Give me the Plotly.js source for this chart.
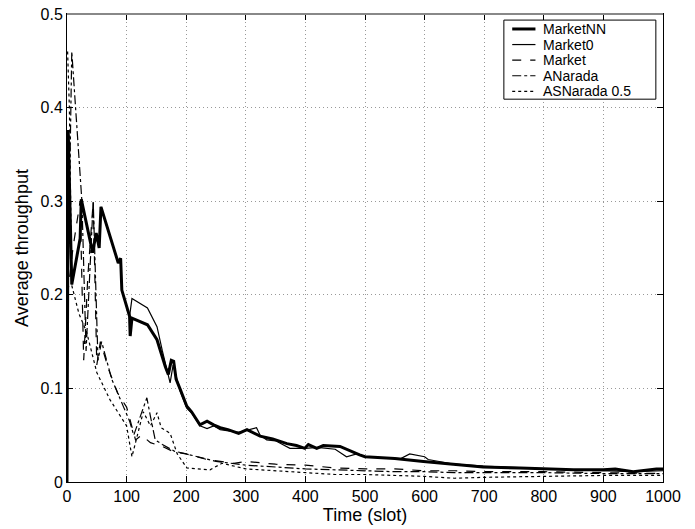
<!DOCTYPE html>
<html>
<head>
<meta charset="utf-8">
<script src="https://cdn.plot.ly/plotly-3.0.1.min.js"></script>
<style>html,body{margin:0;padding:0;background:#fff;}</style>
</head>
<body>
<div id="chart" style="width:695px;height:529px;"></div>
<script>
// MarketNN
const nnT = [0,2,8,22,24,43,49,54,57,86,90,92,105,106,109,135,151,156,165,170,175,179,183,190,201,209,218,223,235,246,257,270,288,302,324,345,369,385,399,405,419,430,458,475,491,500,550,598,650,698,760,800,850,900,920,950,989,1000];
const nnV = [0.0,0.376,0.211,0.26,0.302,0.245,0.266,0.25,0.294,0.234,0.239,0.205,0.177,0.156,0.175,0.168,0.152,0.141,0.123,0.115,0.13,0.129,0.11,0.099,0.081,0.075,0.065,0.061,0.065,0.061,0.058,0.056,0.052,0.056,0.049,0.046,0.041,0.039,0.036,0.040,0.036,0.039,0.038,0.033,0.029,0.027,0.025,0.022,0.019,0.016,0.015,0.014,0.013,0.013,0.014,0.011,0.014,0.014];
// Market0
const m0T = [0,2,8,22,24,43,49,54,57,86,90,92,105,109,135,151,160,168,173,178,185,190,201,210,223,235,246,257,288,302,318,324,335,350,374,400,420,450,469,486,500,560,575,600,606,650,700,800,900,950,1000];
const m0V = [0.0,0.376,0.211,0.26,0.302,0.245,0.266,0.25,0.294,0.234,0.239,0.205,0.177,0.196,0.186,0.166,0.14,0.12,0.106,0.125,0.11,0.097,0.079,0.073,0.06,0.057,0.06,0.056,0.053,0.055,0.058,0.05,0.045,0.044,0.036,0.036,0.037,0.035,0.027,0.030,0.027,0.025,0.030,0.027,0.024,0.019,0.017,0.014,0.012,0.011,0.012];
// Market
const mkT = [1,10,22,28,35,44,50,56,70,85,100,108,115,125,140,160,180,200,235,280,300,350,400,450,500,550,600,650,700,800,900,1000];
const mkV = [0.2,0.25,0.30,0.13,0.22,0.30,0.125,0.15,0.12,0.095,0.08,0.06,0.045,0.05,0.042,0.038,0.032,0.03,0.024,0.02,0.022,0.019,0.018,0.015,0.014,0.014,0.012,0.012,0.011,0.011,0.010,0.009];
// ANarada
const anT = [1,8,25,32,44,52,58,75,95,105,112,125,134,140,148,160,180,200,250,300,350,400,450,500,550,600,650,700,800,900,1000];
const anV = [0.18,0.46,0.30,0.14,0.30,0.13,0.15,0.11,0.08,0.065,0.05,0.075,0.09,0.07,0.045,0.04,0.033,0.03,0.022,0.018,0.016,0.014,0.013,0.012,0.011,0.011,0.010,0.010,0.010,0.009,0.009];
// ASNarada 0.5
const asT = [1,4,8,20,33,50,72,100,109,118,128,140,151,158,173,185,201,240,260,300,350,400,450,500,550,600,650,700,800,900,1000];
const asV = [0.46,0.40,0.21,0.18,0.16,0.117,0.088,0.06,0.027,0.05,0.075,0.06,0.074,0.058,0.052,0.03,0.015,0.013,0.02,0.014,0.012,0.010,0.008,0.008,0.007,0.006,0.004,0.005,0.006,0.007,0.007];

const names = ['MarketNN','Market0','Market','ANarada','ASNarada 0.5'];
const widths = [3, 1.2, 1.2, 1.2, 1.2];
const dashes = ['solid','solid','dash','dashdot','dot'];
const xs = [nnT, m0T, mkT, anT, asT];
const ys = [nnV, m0V, mkV, anV, asV];

const traces = names.map((n, i) => ({
  type:'scatter', mode:'lines', x: xs[i], y: ys[i], name: n,
  line:{color:'#000', width: widths[i], dash: dashes[i]}
}));

const FF = 'Liberation Sans, Arial, sans-serif';
const axFont = {family:FF, size:16, color:'#000'};

// legend drawn as a framed box (paper coords)
const shapes = [
  {type:'line', xref:'paper', yref:'paper', x0:0, x1:1, y0:1, y1:1, line:{color:'#888', width:2}},
  {type:'rect', xref:'paper', yref:'paper', x0:0.733, x1:0.988, y0:0.818, y1:0.987,
   fillcolor:'#fff', line:{color:'#000', width:1}}
];
const annotations = [];
const legTop = 0.968, legStep = 0.0333;
names.forEach((n, i) => {
  const yc = legTop - i * legStep;
  shapes.push({type:'line', xref:'paper', yref:'paper', x0:0.747, x1:0.786, y0:yc, y1:yc,
               line:{color:'#000', width: widths[i] === 3 ? 3 : 1.2, dash: dashes[i]}});
  annotations.push({xref:'paper', yref:'paper', x:0.796, y:yc, xanchor:'left', yanchor:'middle',
                    text:n, showarrow:false, font:{family:FF, size:14, color:'#000'}});
});

const layout = {
  width:695, height:529,
  margin:{l:67, r:32, t:14, b:47},
  paper_bgcolor:'#fff', plot_bgcolor:'#fff',
  font: axFont,
  showlegend:false,
  xaxis:{range:[0,1000], dtick:100, tick0:0, showgrid:true, gridcolor:'#999', griddash:'1px,3px', gridwidth:1,
         zeroline:false, showline:true, linecolor:'#000', linewidth:1, mirror:'ticks', ticks:'inside', ticklen:6, tickcolor:'#000',
         tickfont:axFont, title:{text:'Time (slot)', font:{family:FF, size:18, color:'#000'}, standoff:3}},
  yaxis:{range:[0,0.5], dtick:0.1, tick0:0, showgrid:true, gridcolor:'#999', griddash:'1px,3px', gridwidth:1,
         zeroline:false, showline:true, linecolor:'#000', linewidth:1, mirror:'ticks', ticks:'inside', ticklen:6, tickcolor:'#000',
         tickfont:axFont, tickformat:'.1~f',
         title:{text:'Average throughput', font:{family:FF, size:18, color:'#000'}, standoff:7}},
  shapes: shapes,
  annotations: annotations
};

Plotly.newPlot('chart', traces, layout, {displayModeBar:false, staticPlot:true});
</script>
</body>
</html>
